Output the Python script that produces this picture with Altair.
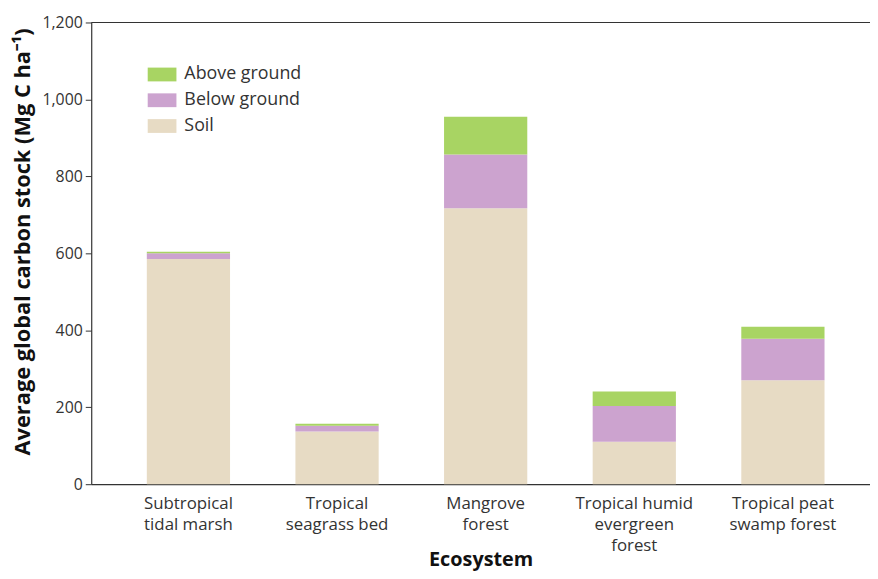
import altair as alt
import pandas as pd

ecosystems = [
    "Subtropical\ntidal marsh",
    "Tropical\nseagrass bed",
    "Mangrove\nforest",
    "Tropical humid\nevergreen\nforest",
    "Tropical peat\nswamp forest",
]
soil = [585, 137, 717, 110, 270]
below_ground = [15, 15, 140, 93, 108]
above_ground = [4, 5, 98, 38, 31]

components = ["Above ground", "Below ground", "Soil"]
colors = ["#a8d463", "#cca3cf", "#e7dbc4"]
stack_order = {"Soil": 0, "Below ground": 1, "Above ground": 2}

rows = []
for i, e in enumerate(ecosystems):
    for comp, vals in (("Soil", soil), ("Below ground", below_ground), ("Above ground", above_ground)):
        rows.append({"Ecosystem": e, "Component": comp, "Value": vals[i], "ord": stack_order[comp]})
df = pd.DataFrame(rows)

FONT = "Open Sans"

bars = alt.Chart(df).mark_bar().encode(
    x=alt.X(
        "Ecosystem:N",
        sort=ecosystems,
        scale=alt.Scale(paddingInner=0.44, paddingOuter=0.34, align=0.55),
        axis=alt.Axis(
            title="Ecosystem",
            labelAngle=0,
            labelExpr="split(datum.label, '\\n')",
            ticks=False,
            labelPadding=12,
            labelLineHeight=21,
            labelFontSize=17,
            labelColor="#333333",
            titleFontSize=20,
            titleFontWeight="bold",
            titleColor="#111111",
            titleY=82,
            titleBaseline="alphabetic",
            domainColor="#333333",
            domainWidth=1.2,
        ),
    ),
    y=alt.Y(
        "Value:Q",
        stack="zero",
        scale=alt.Scale(domain=[0, 1200], nice=False),
        axis=alt.Axis(
            title="Average global carbon stock (Mg C ha\u207b\u00b9)",
            values=[0, 200, 400, 600, 800, 1000, 1200],
            format=",.0f",
            grid=False,
            tickSize=6,
            tickColor="#333333",
            labelFontSize=16,
            labelColor="#333333",
            labelPadding=3,
            titleFontSize=22,
            titleFontWeight="bold",
            titleColor="#111111",
            titlePadding=8,
            titleY=221,
            domainColor="#333333",
            domainWidth=1.2,
        ),
    ),
    color=alt.Color(
        "Component:N",
        scale=alt.Scale(domain=components, range=colors),
        legend=alt.Legend(
            title=None,
            orient="none",
            legendX=57,
            legendY=38,
            symbolType="M-1,-0.48H1V0.48H-1Z",
            symbolSize=841,
            symbolStrokeWidth=0,
            symbolOpacity=1,
            labelFontSize=18,
            labelColor="#333333",
            labelOffset=8,
            rowPadding=2,
        ),
    ),
    order=alt.Order("ord:Q"),
)

top_line = alt.Chart(pd.DataFrame({"y": [1200]})).mark_rule(color="#333333", strokeWidth=1.2).encode(
    y=alt.Y("y:Q")
)

chart = (
    alt.layer(bars, top_line)
    .properties(
        width=786,
        height=466,
        autosize=alt.AutoSizeParams(type="none"),
        padding={"left": 84, "top": 12, "right": 0, "bottom": 85},
    )
    .configure(font=FONT)
    .configure_view(stroke=None)
)

chart.save("out.html", embed_options={"renderer": "svg", "actions": False})
